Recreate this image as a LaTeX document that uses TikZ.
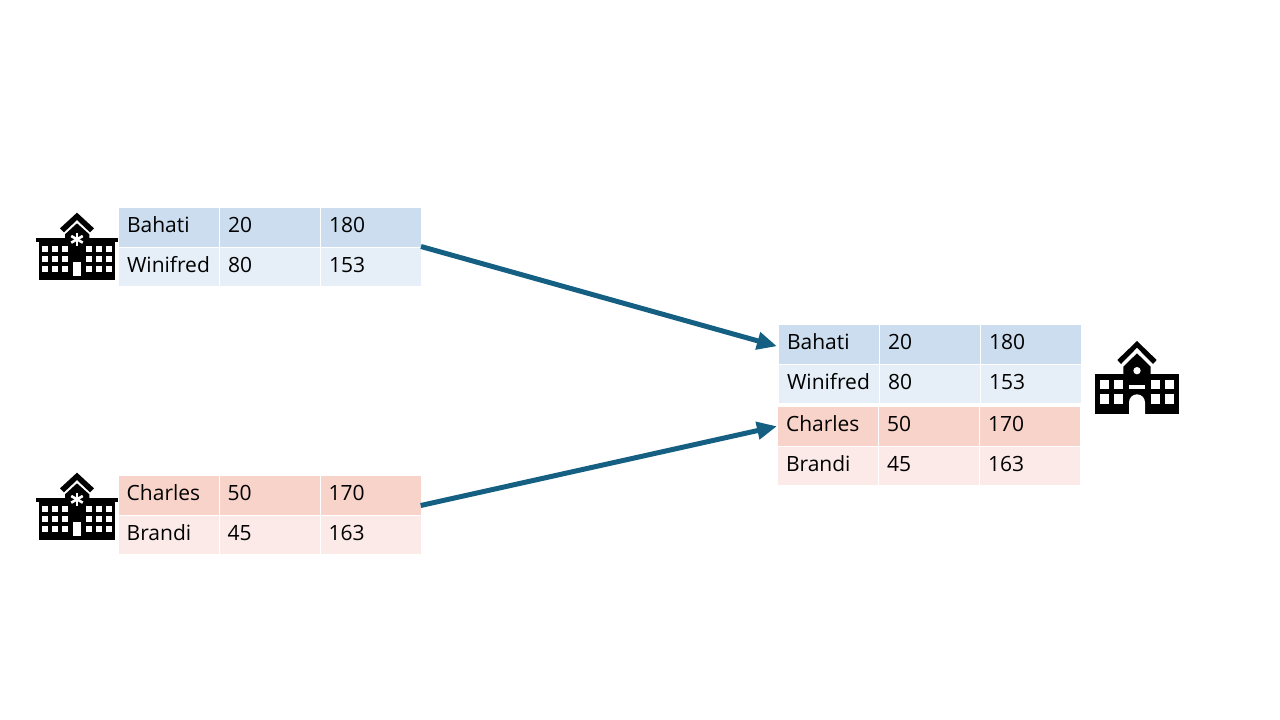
\documentclass[tikz,border=0pt]{standalone}
\usepackage{fontspec}
\setmainfont{Open Sans}
\usetikzlibrary{positioning,arrows.meta}
\definecolor{bluehead}{HTML}{CBDDEE}
\definecolor{bluerow}{HTML}{E6EFF7}
\definecolor{redhead}{HTML}{F8D3CA}
\definecolor{redrow}{HTML}{FBEAE7}
\definecolor{arrowblue}{HTML}{156082}
\tikzset{
  cell/.style={
    minimum width=100pt, minimum height=38.5pt,
    text width=84pt, inner xsep=8pt, inner ysep=0pt, outer sep=0pt,
    align=left, text height=15pt, text depth=4pt,
    font=\fontsize{21}{21}\selectfont
  },
  link/.style={
    arrowblue, line width=5pt,
    -{Triangle[length=20pt, width=17pt]}
  },
  pics/hospital/.style={code={
    \fill (18,113) rectangle (264,127);
    \fill (27,127) rectangle (255,240);
    \fill (141,70) -- (178,103) -- (178,127) -- (105,127) -- (105,103) -- cycle;
    \fill (141,38) -- (192,85) -- (180,97) -- (141,60) -- (102,97) -- (90,85) -- cycle;
    \foreach \x in {37,67,97,168,198,228}
      \foreach \y in {137,167,197}
        \fill[white] (\x,\y) rectangle ++(18,18);
    \fill[white] (130,186) rectangle (153,228);
    \foreach \a in {90,150,210,270,330,30}
      \draw[white, line width=2.6pt] (141,118) -- ++(\a:20);
  }},
  pics/school/.style={code={
    \fill (30,118) rectangle (282,238);
    \fill (156,55) -- (197,95) -- (197,118) -- (115,118) -- (115,95) -- cycle;
    \fill (156,18) -- (215,75) -- (204,87) -- (156,38) -- (108,87) -- (97,75) -- cycle;
    \foreach \x in {44,86,198,240}
      \foreach \y in {135,178}
        \fill[white] (\x,\y) rectangle ++(28,28);
    \fill[white] (132,150) rectangle (180,163);
    \fill[white] (132,238) -- (132,202) arc (180:360:24) -- (180,238) -- cycle;
    \fill[white] (156,107) circle (11);
  }}
}
\begin{document}
\begin{tikzpicture}[x=1pt, y=-1pt, node distance=1pt]
  \useasboundingbox (0,0) rectangle (1280,720);
  % top left table
  \node[cell, fill=bluehead, anchor=north west] (b1) at (119,208) {Bahati};
  \node[cell, fill=bluehead, right=of b1] (b2) {20};
  \node[cell, fill=bluehead, right=of b2] (b3) {180};
  \node[cell, fill=bluerow, below=of b1] (w1) {Winifred};
  \node[cell, fill=bluerow, right=of w1] (w2) {80};
  \node[cell, fill=bluerow, right=of w2] (w3) {153};
  % bottom left table
  \node[cell, fill=redhead, anchor=north west] (c1) at (118.7,476) {Charles};
  \node[cell, fill=redhead, right=of c1] (c2) {50};
  \node[cell, fill=redhead, right=of c2] (c3) {170};
  \node[cell, fill=redrow, below=of c1] (r1) {Brandi};
  \node[cell, fill=redrow, right=of r1] (r2) {45};
  \node[cell, fill=redrow, right=of r2] (r3) {163};
  % merged table
  \node[cell, fill=bluehead, anchor=north west] (mb1) at (779,325) {Bahati};
  \node[cell, fill=bluehead, right=of mb1] (mb2) {20};
  \node[cell, fill=bluehead, right=of mb2] (mb3) {180};
  \node[cell, fill=bluerow, below=of mb1] (mw1) {Winifred};
  \node[cell, fill=bluerow, right=of mw1] (mw2) {80};
  \node[cell, fill=bluerow, right=of mw2] (mw3) {153};
  \node[cell, fill=redhead, anchor=north west] (mc1) at (778,407) {Charles};
  \node[cell, fill=redhead, right=of mc1] (mc2) {50};
  \node[cell, fill=redhead, right=of mc2] (mc3) {170};
  \node[cell, fill=redrow, below=of mc1] (mr1) {Brandi};
  \node[cell, fill=redrow, right=of mr1] (mr2) {45};
  \node[cell, fill=redrow, right=of mr2] (mr3) {163};
  % icons
  \pic[scale=1/3] at (30,200) {hospital};
  \pic[scale=1/3] at (30,460) {hospital};
  \pic[scale=1/3] at (1085,335) {school};
  % arrows
  \coordinate (top start) at (b3.south east);
  \coordinate (low start) at ([yshift=9pt]c3.south east);
  \draw[link] (top start) -- ([xshift=-2pt,yshift=-2pt]mb1.west);
  \draw[link] (low start) -- ([xshift=-1pt]mc1.west);
\end{tikzpicture}
\end{document}
